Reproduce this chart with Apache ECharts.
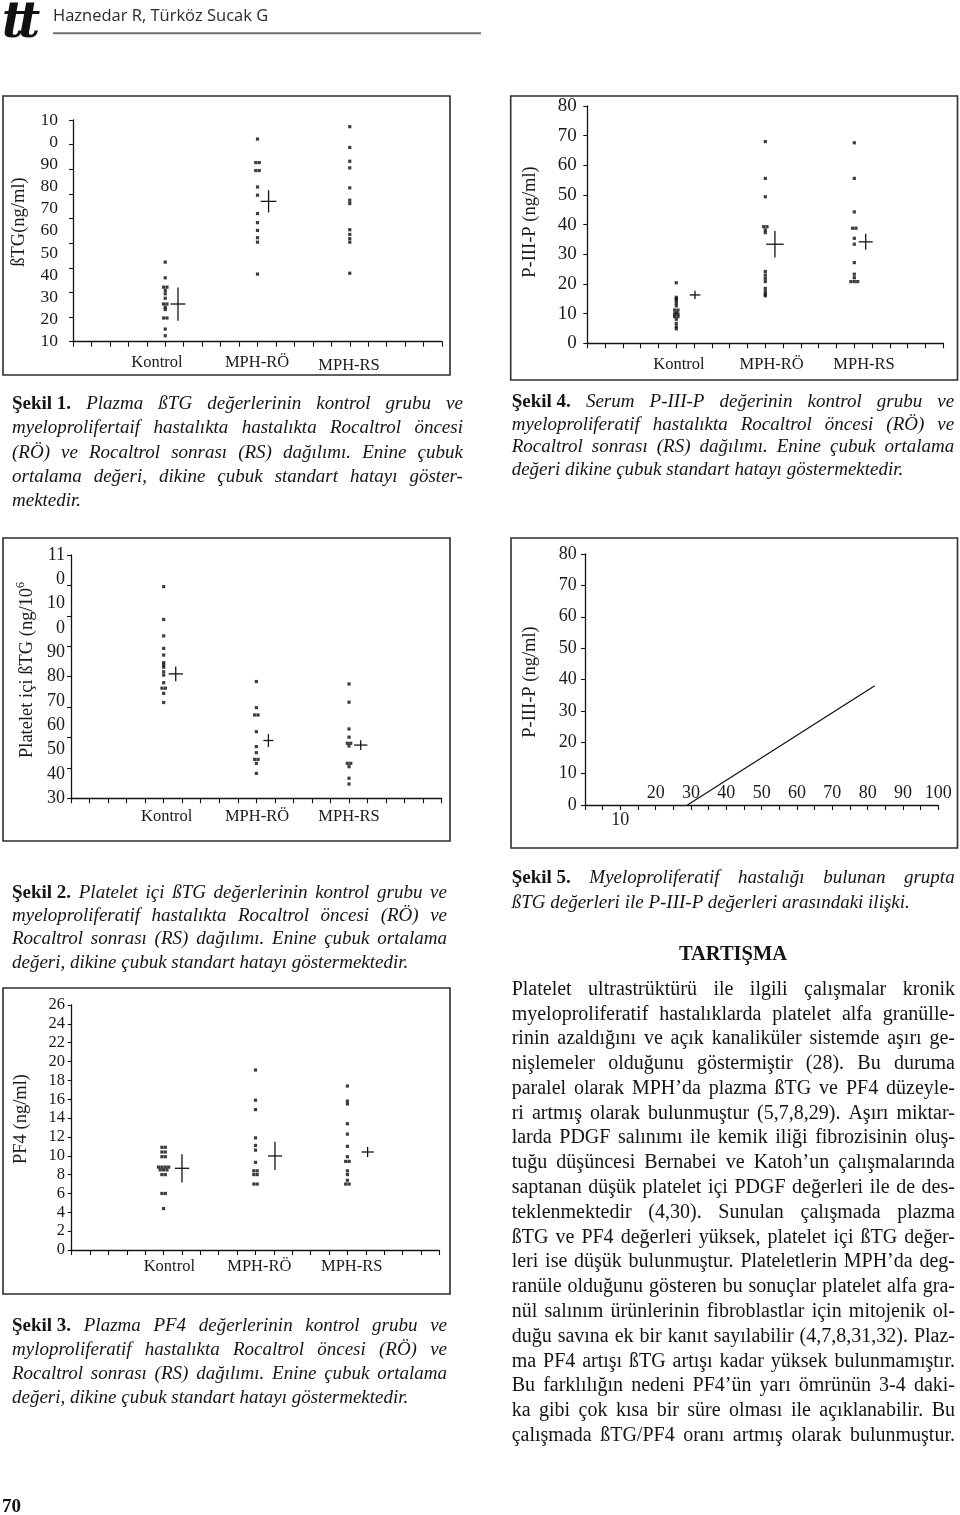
<!DOCTYPE html>
<html>
<head>
<meta charset="utf-8">
<script src="https://cdn.jsdelivr.net/npm/echarts@6/dist/echarts.min.js"></script>
<style>
html,body{margin:0;padding:0;background:#fff;}
#page{position:relative;width:960px;height:1515px;overflow:hidden;background:#fff;}
#chart{position:absolute;left:0;top:0;width:960px;height:1515px;}
.tl{position:absolute;white-space:pre;font-family:'Liberation Serif','Times New Roman',serif;color:#141414;z-index:2;}
.hd{position:absolute;z-index:2;white-space:pre;}
</style>
</head>
<body>
<div id="page"><div id="chart"></div></div>
<script>
// ================= DATA =================
const groups = ['Kontrol', 'MPH-RÖ', 'MPH-RS'];

// Şekil 1 – plazma ßTG (ng/ml)
const fig1Kontrol = [45.9, 38.8, 34.6, 34.6, 33.1, 31.6, 29.6, 27.0, 27.0, 25.5, 24.5, 20.7, 20.7, 15.7, 12.7];
const fig1RO      = [101.4, 90.8, 90.8, 87.2, 87.2, 79.8, 76.1, 67.8, 63.7, 60.2, 56.9, 54.9, 40.5];
const fig1RS      = [107.0, 97.6, 91.4, 88.4, 79.4, 73.8, 72.3, 60.5, 58.4, 56.5, 54.9, 40.9];
const fig1Mean    = [27.0, 73.3, null];
const fig1SE      = [7.5, 5.0, null];
const fig1TickLabels = ['10', '20', '30', '40', '50', '60', '70', '80', '90', '0', '10']; // bottom → top, as printed

// Şekil 4 – serum P-III-P (ng/ml)
const fig4Kontrol = [20.4, 15.5, 15.0, 14.4, 13.5, 12.6, 11.2, 11.2, 10.3, 9.9, 9.9, 9.0, 9.0, 8.1, 6.7, 5.6, 4.9];
const fig4RO      = [68.0, 55.6, 49.4, 39.3, 39.3, 38.2, 37.3, 24.2, 23.0, 21.9, 20.8, 18.5, 17.4, 16.6, 16.0];
const fig4RS      = [67.6, 55.6, 44.3, 38.8, 38.8, 35.4, 33.4, 27.2, 23.3, 22.1, 20.8, 20.8, 20.8];
const fig4Mean    = [16.3, 33.4, 34.2];
const fig4SE      = [1.4, 4.5, 2.7];

// Şekil 2 – platelet içi ßTG
const fig2Kontrol = [99.6, 88.8, 83.4, 79.3, 77.1, 74.6, 73.8, 73.1, 71.6, 70.5, 68.0, 66.2, 66.2, 64.5, 61.5];
const fig2RO      = [68.4, 59.8, 57.4, 57.4, 51.9, 47.0, 45.0, 42.8, 42.8, 41.5, 38.2];
const fig2RS      = [67.6, 61.6, 52.8, 50.1, 48.1, 48.1, 47.2, 41.5, 41.5, 40.4, 36.6, 34.7];
const fig2Mean    = [70.9, 49.0, 47.5];
const fig2SE      = [2.4, 2.1, 1.6];
const fig2TickLabels = ['11', '0', '10', '0', '90', '80', '70', '60', '50', '40', '30']; // top → bottom, as printed

// Şekil 5 – ßTG vs P-III-P
const fig5LineX = [29, 82];
const fig5LineY = [0, 38];
const fig5XLabelsInside  = [20, 30, 40, 50, 60, 70, 80, 90, 100];
const fig5XLabelsOutside = [10];

// Şekil 3 – plazma PF4 (ng/ml)
const fig3Kontrol = [10.9, 10.9, 10.4, 10.4, 9.9, 9.9, 8.8, 8.8, 8.8, 8.8, 8.5, 8.5, 8.5, 8.0, 8.0, 6.0, 6.0, 4.4];
const fig3RO      = [19.1, 15.9, 14.9, 11.9, 11.1, 10.6, 9.3, 8.4, 8.4, 8.0, 8.0, 7.0, 7.0];
const fig3RS      = [17.4, 15.8, 15.5, 13.4, 12.3, 11.0, 9.9, 9.4, 9.4, 8.4, 8.0, 7.4, 7.0, 7.0];
const fig3Mean    = [8.67, 9.98, 10.4];
const fig3SE      = [1.5, 1.5, 0.55];

// ================= TEXT =================
const caption1 = {lead: 'Şekil 1.', lines: [
  'Plazma ßTG değerlerinin kontrol grubu ve',
  'myeloprolifertaif hastalıkta hastalıkta Rocaltrol öncesi',
  '(RÖ) ve Rocaltrol sonrası (RS) dağılımı. Enine çubuk',
  'ortalama değeri, dikine çubuk standart hatayı göster-',
  'mektedir.']};
const caption4 = {lead: 'Şekil 4.', lines: [
  'Serum P-III-P değerinin kontrol grubu ve',
  'myeloproliferatif hastalıkta Rocaltrol öncesi (RÖ) ve',
  'Rocaltrol sonrası (RS) dağılımı. Enine çubuk ortalama',
  'değeri dikine çubuk standart hatayı göstermektedir.']};
const caption2 = {lead: 'Şekil 2.', lines: [
  'Platelet içi ßTG değerlerinin kontrol grubu ve',
  'myeloproliferatif hastalıkta Rocaltrol öncesi (RÖ) ve',
  'Rocaltrol sonrası (RS) dağılımı. Enine çubuk ortalama',
  'değeri, dikine çubuk standart hatayı göstermektedir.']};
const caption3 = {lead: 'Şekil 3.', lines: [
  'Plazma PF4 değerlerinin kontrol grubu ve',
  'myloproliferatif hastalıkta Rocaltrol öncesi (RÖ) ve',
  'Rocaltrol sonrası (RS) dağılımı. Enine çubuk ortalama',
  'değeri, dikine çubuk standart hatayı göstermektedir.']};
const caption5 = {lead: 'Şekil 5.', lines: [
  'Myeloproliferatif hastalığı bulunan grupta',
  'ßTG değerleri ile P-III-P değerleri arasındaki ilişki.']};
const bodyTitle = 'TARTIŞMA';
const bodyLines = [
  'Platelet ultrastrüktürü ile ilgili çalışmalar kronik',
  'myeloproliferatif hastalıklarda platelet alfa granülle-',
  'rinin azaldığını ve açık kanaliküler sistemde aşırı ge-',
  'nişlemeler olduğunu göstermiştir (28). Bu duruma',
  'paralel olarak MPH’da plazma ßTG ve PF4 düzeyle-',
  'ri artmış olarak bulunmuştur (5,7,8,29). Aşırı miktar-',
  'larda PDGF salınımı ile kemik iliği fibrozisinin oluş-',
  'tuğu düşüncesi Bernabei ve Katoh’un çalışmalarında',
  'saptanan düşük platelet içi PDGF değerleri ile de des-',
  'teklenmektedir (4,30). Sunulan çalışmada plazma',
  'ßTG ve PF4 değerleri yüksek, platelet içi ßTG değer-',
  'leri ise düşük bulunmuştur. Plateletlerin MPH’da deg-',
  'ranüle olduğunu gösteren bu sonuçlar platelet alfa gra-',
  'nül salınım ürünlerinin fibroblastlar için mitojenik ol-',
  'duğu savına ek bir kanıt sayılabilir (4,7,8,31,32). Plaz-',
  'ma PF4 artışı ßTG artışı kadar yüksek bulunmamıştır.',
  'Bu farklılığın nedeni PF4’ün yarı ömrünün 3-4 daki-',
  'ka gibi çok kısa bir süre olması ile açıklanabilir. Bu',
  'çalışmada ßTG/PF4 oranı artmış olarak bulunmuştur.'];
const headerText = 'Haznedar R, Türköz Sucak G';
const pageNumber = '70';
const yNames = ['ßTG(ng/ml)', 'P-III-P (ng/ml)', 'Platelet içi ßTG (ng/10', 'P-III-P (ng/ml)', 'PF4 (ng/ml)'];
const yNameSup = '6';

// ================= LAYOUT / STYLE =================
const SERIF = "'Liberation Serif','Times New Roman',serif";
const INK = '#141414';
const groupX = [5, 10, 15];
const grids = [
  {left: 73,    top: 120,  width: 369,   height: 221.7},  // Şekil 1
  {left: 587.3, top: 106,  width: 356,   height: 237.3},  // Şekil 4
  {left: 71,    top: 555,  width: 370.7, height: 243.3},  // Şekil 2
  {left: 585,   top: 554,  width: 353.3, height: 251},    // Şekil 5
  {left: 71.7,  top: 1005, width: 367.6, height: 245}     // Şekil 3
];
const boxes = [[3, 96, 450, 375], [510.7, 96, 957.5, 380], [3, 538, 450, 841], [511, 538, 957.5, 848], [3, 988, 450, 1294]];
const catLabelPos = [
  [[157, 363], [257, 363], [349, 366]],
  [[679, 365], [771.7, 365], [864, 365]],
  [[166.7, 817], [257, 817], [349, 817]],
  null,
  [[169.3, 1267], [259.3, 1267], [351.7, 1267]]
];
const yNamePos = [[19, 222], [530, 222], [27, 670], [530, 682], [21, 1119]];
const crossDx = {f1: [0.69, 0.6, 0], f4: [1.05, 0.54, 0.64], f2: [0.65, 0.65, 0.63], f3: [1.0, 1.06, 1.1]};
const crossHalfW = {f1: [7.5, 7.8, 0], f4: [5.3, 8.8, 7], f2: [7.2, 5, 6.7], f3: [7.2, 7, 6.2]};

// ================= HELPERS =================
function dotData(values, gx) {
  const counts = {}, seen = {};
  values.forEach(v => counts[v] = (counts[v] || 0) + 1);
  return values.map(v => {
    const n = counts[v];
    const k = seen[v] = (seen[v] === undefined ? 0 : seen[v] + 1);
    return {value: [gx, v], symbolOffset: [(k - (n - 1) / 2) * 3.4, 0]};
  });
}
function dotSeries(xi, yi, arrs) {
  return arrs.map((vals, i) => ({
    type: 'scatter', xAxisIndex: xi, yAxisIndex: yi, name: groups[i],
    symbol: 'rect', symbolSize: 3.2, itemStyle: {color: '#0d0d0d'},
    data: dotData(vals, groupX[i]), silent: true, z: 4
  }));
}
function crossSeries(xi, yi, means, ses, dx, hw) {
  const data = [];
  means.forEach((m, i) => { if (m != null) data.push([groupX[i] + dx[i], m, ses[i], hw[i]]); });
  return {
    type: 'custom', xAxisIndex: xi, yAxisIndex: yi, silent: true, z: 5,
    encode: {x: 0, y: 1}, data,
    renderItem(params, api) {
      const x = api.value(0), m = api.value(1), s = api.value(2), h = api.value(3);
      const c = api.coord([x, m]), t = api.coord([x, m + s]), b = api.coord([x, m - s]);
      const st = {stroke: INK, lineWidth: 1.3};
      return {type: 'group', children: [
        {type: 'line', shape: {x1: c[0] - h, y1: c[1], x2: c[0] + h, y2: c[1]}, style: st},
        {type: 'line', shape: {x1: c[0], y1: t[1], x2: c[0], y2: b[1]}, style: st}
      ]};
    }
  };
}
const axLine = {show: true, lineStyle: {color: INK, width: 1.3}};
const tickX = {show: true, inside: false, length: 5, lineStyle: {color: INK, width: 1.1}};
const tickY = {show: true, inside: false, length: 4, lineStyle: {color: INK, width: 1.1}};
function groupXAxis(g) {
  return {type: 'value', gridIndex: g, position: 'bottom', min: 0, max: 20, interval: 1,
    axisLine: axLine, axisTick: tickX, axisLabel: {show: false}, splitLine: {show: false}};
}
function lbl(size, margin, fmt) {
  const o = {show: true, margin, fontFamily: SERIF, fontSize: size, color: '#1a1a1a'};
  if (fmt) o.formatter = fmt;
  return o;
}

// ================= AXES =================
const xAxes = [
  groupXAxis(0),                                   // 0 Şekil 1
  groupXAxis(1),                                   // 1 Şekil 4
  groupXAxis(2),                                   // 2 Şekil 2
  {type: 'value', gridIndex: 3, position: 'bottom', min: 0, max: 100, interval: 5,   // 3 Şekil 5 (inside labels)
   axisLine: axLine, axisTick: tickX, splitLine: {show: false},
   axisLabel: Object.assign(lbl(18, 3, v => fig5XLabelsInside.includes(v) ? String(v) : ''), {inside: true})},
  {type: 'value', gridIndex: 3, position: 'bottom', min: 0, max: 100, interval: 5,   // 4 Şekil 5 (outside label)
   axisLine: {show: false}, axisTick: {show: false}, splitLine: {show: false},
   axisLabel: lbl(18, 6, v => fig5XLabelsOutside.includes(v) ? String(v) : '')},
  groupXAxis(4)                                    // 5 Şekil 3
];
const yAxes = [
  {type: 'value', gridIndex: 0, position: 'left', min: 10, max: 110, interval: 10,   // 0 Şekil 1 values + labels
   axisLine: axLine, axisTick: {show: false}, splitLine: {show: false},
   axisLabel: lbl(17.5, 15, v => fig1TickLabels[Math.round((v - 10) / 10)])},
  {type: 'value', gridIndex: 0, position: 'left', min: 0, max: 9, interval: 1,       // 1 Şekil 1 printed ticks
   axisLine: {show: false}, axisTick: tickY, axisLabel: {show: false}, splitLine: {show: false}},
  {type: 'value', gridIndex: 1, position: 'left', min: 0, max: 80, interval: 10,     // 2 Şekil 4
   axisLine: axLine, axisTick: tickY, splitLine: {show: false}, axisLabel: lbl(19, 10.5)},
  {type: 'value', gridIndex: 2, position: 'left', min: 30, max: 110, interval: 10,   // 3 Şekil 2 values + ticks
   axisLine: axLine, axisTick: tickY, splitLine: {show: false}, axisLabel: {show: false}},
  {type: 'category', gridIndex: 2, position: 'left', inverse: true, boundaryGap: false, // 4 Şekil 2 printed labels
   data: fig2TickLabels, axisLine: {show: false}, axisTick: {show: false}, splitLine: {show: false},
   axisLabel: Object.assign(lbl(18, 6), {interval: 0})},
  {type: 'value', gridIndex: 3, position: 'left', min: 0, max: 80, interval: 10,     // 5 Şekil 5
   axisLine: axLine, axisTick: tickY, splitLine: {show: false}, axisLabel: lbl(18, 8.3)},
  {type: 'value', gridIndex: 4, position: 'left', min: 0, max: 26, interval: 2,      // 6 Şekil 3
   axisLine: axLine, axisTick: tickY, splitLine: {show: false}, axisLabel: lbl(16.5, 6.7)}
];

// ================= SERIES =================
const series = [].concat(
  dotSeries(0, 0, [fig1Kontrol, fig1RO, fig1RS]),
  [crossSeries(0, 0, fig1Mean, fig1SE, crossDx.f1, crossHalfW.f1)],
  dotSeries(1, 2, [fig4Kontrol, fig4RO, fig4RS]),
  [crossSeries(1, 2, fig4Mean, fig4SE, crossDx.f4, crossHalfW.f4)],
  dotSeries(2, 3, [fig2Kontrol, fig2RO, fig2RS]),
  [crossSeries(2, 3, fig2Mean, fig2SE, crossDx.f2, crossHalfW.f2)],
  [{type: 'line', xAxisIndex: 3, yAxisIndex: 5, symbol: 'none', silent: true,
    lineStyle: {color: INK, width: 1.3}, data: fig5LineX.map((x, i) => [x, fig5LineY[i]])}],
  dotSeries(5, 6, [fig3Kontrol, fig3RO, fig3RS]),
  [crossSeries(5, 6, fig3Mean, fig3SE, crossDx.f3, crossHalfW.f3)]
);

// ================= GRAPHIC =================
const elements = [];
boxes.forEach(b => elements.push({type: 'rect', silent: true, z: 1,
  shape: {x: b[0], y: b[1], width: b[2] - b[0], height: b[3] - b[1]},
  style: {fill: null, stroke: '#2e2e2e', lineWidth: 1.6}}));
catLabelPos.forEach(pos => { if (!pos) return; pos.forEach((p, i) => elements.push({type: 'text', silent: true, z: 3,
  x: p[0], y: p[1], style: {text: groups[i], align: 'center', verticalAlign: 'middle',
  fontFamily: SERIF, fontSize: 16.5, fill: '#1a1a1a'}})); });
yNamePos.forEach((p, i) => {
  const st = {align: 'center', verticalAlign: 'middle', fontFamily: SERIF, fontSize: 18.5, fill: '#1a1a1a'};
  if (i === 2) {
    st.text = '{a|' + yNames[i] + '}{s|' + yNameSup + '}';
    st.rich = {a: {fontFamily: SERIF, fontSize: 18.5, lineHeight: 24, verticalAlign: 'middle', fill: '#1a1a1a'},
               s: {fontFamily: SERIF, fontSize: 12, lineHeight: 12, verticalAlign: 'top', fill: '#1a1a1a'}};
  } else st.text = yNames[i];
  elements.push({type: 'text', silent: true, z: 3, x: p[0], y: p[1], rotation: Math.PI / 2, style: st});
});
elements.push({type: 'line', silent: true, shape: {x1: 53, y1: 33.3, x2: 481, y2: 33.3},
  style: {stroke: '#707070', lineWidth: 2}});

const chart = echarts.init(document.getElementById('chart'));
chart.setOption({
  backgroundColor: '#fff', animation: false,
  grid: grids.map(g => Object.assign({containLabel: false}, g)),
  xAxis: xAxes, yAxis: yAxes, series,
  graphic: {elements}
});

// ================= HTML TEXT =================
const page = document.getElementById('page');
function addBlock(lines, o) {
  const lh = o.lh;
  lines.forEach((ln, i) => {
    const d = document.createElement('div');
    d.className = 'tl';
    const cy = o.y0 + i * o.dy;
    Object.assign(d.style, {left: o.x + 'px', top: (cy - lh / 2) + 'px', width: o.w + 'px',
      height: lh + 'px', lineHeight: lh + 'px', fontSize: o.fs + 'px', fontStyle: o.italic ? 'italic' : 'normal'});
    const tokens = [];
    if (i === 0 && o.lead) tokens.push({t: o.lead, b: true});
    ln.split(' ').forEach(w => tokens.push({t: w}));
    const justify = !(o.lastLeft && i === lines.length - 1);
    if (justify) { d.style.display = 'flex'; d.style.justifyContent = 'space-between'; }
    tokens.forEach((tk, j) => {
      const s = document.createElement('span');
      s.textContent = justify ? tk.t : ((j ? ' ' : '') + tk.t);
      if (tk.b) { s.style.fontWeight = 'bold'; s.style.fontStyle = 'normal'; }
      d.appendChild(s);
    });
    page.appendChild(d);
  });
}
const capStyle = {italic: true, fs: 19, lh: 22, lastLeft: true};
addBlock(caption1.lines, Object.assign({}, capStyle, {lead: caption1.lead, x: 12, w: 451, y0: 403, dy: 24.3}));
addBlock(caption4.lines, Object.assign({}, capStyle, {lead: caption4.lead, x: 511.7, w: 442.5, y0: 401, dy: 22.6}));
addBlock(caption2.lines, Object.assign({}, capStyle, {lead: caption2.lead, x: 12, w: 435, y0: 891.7, dy: 23.3}));
addBlock(caption3.lines, Object.assign({}, capStyle, {lead: caption3.lead, x: 12, w: 435, y0: 1325, dy: 24.1}));
addBlock(caption5.lines, Object.assign({}, capStyle, {lead: caption5.lead, x: 511.7, w: 443, y0: 876.7, dy: 25}));
addBlock(bodyLines, {italic: false, fs: 20, lh: 23, lastLeft: false, x: 511.7, w: 443.3, y0: 988.3, dy: 24.78});

function addLabel(text, css) {
  const d = document.createElement('div');
  d.className = 'hd';
  d.textContent = text;
  Object.assign(d.style, css);
  page.appendChild(d);
}
addLabel(bodyTitle, {left: '633px', width: '200px', top: '941px', textAlign: 'center', fontFamily: SERIF,
  fontWeight: 'bold', fontSize: '20.5px', lineHeight: '24px', color: '#141414'});
addLabel(pageNumber, {left: '2px', top: '1494px', fontFamily: SERIF, fontWeight: 'bold', fontSize: '19px',
  lineHeight: '24px', color: '#111'});
addLabel(headerText, {left: '53px', top: '4px', fontFamily: "'Open Sans','DejaVu Sans',sans-serif", fontSize: '16.5px',
  lineHeight: '22px', color: '#2a2a2a'});
addLabel('tt', {left: '2px', top: '-9px', fontFamily: "'DejaVu Serif',serif", fontWeight: 'bold', fontStyle: 'italic',
  fontSize: '50px', lineHeight: '58px', letterSpacing: '-6px', color: '#111', transform: 'scaleX(0.95)', transformOrigin: 'left top'});
</script>
</body>
</html>
